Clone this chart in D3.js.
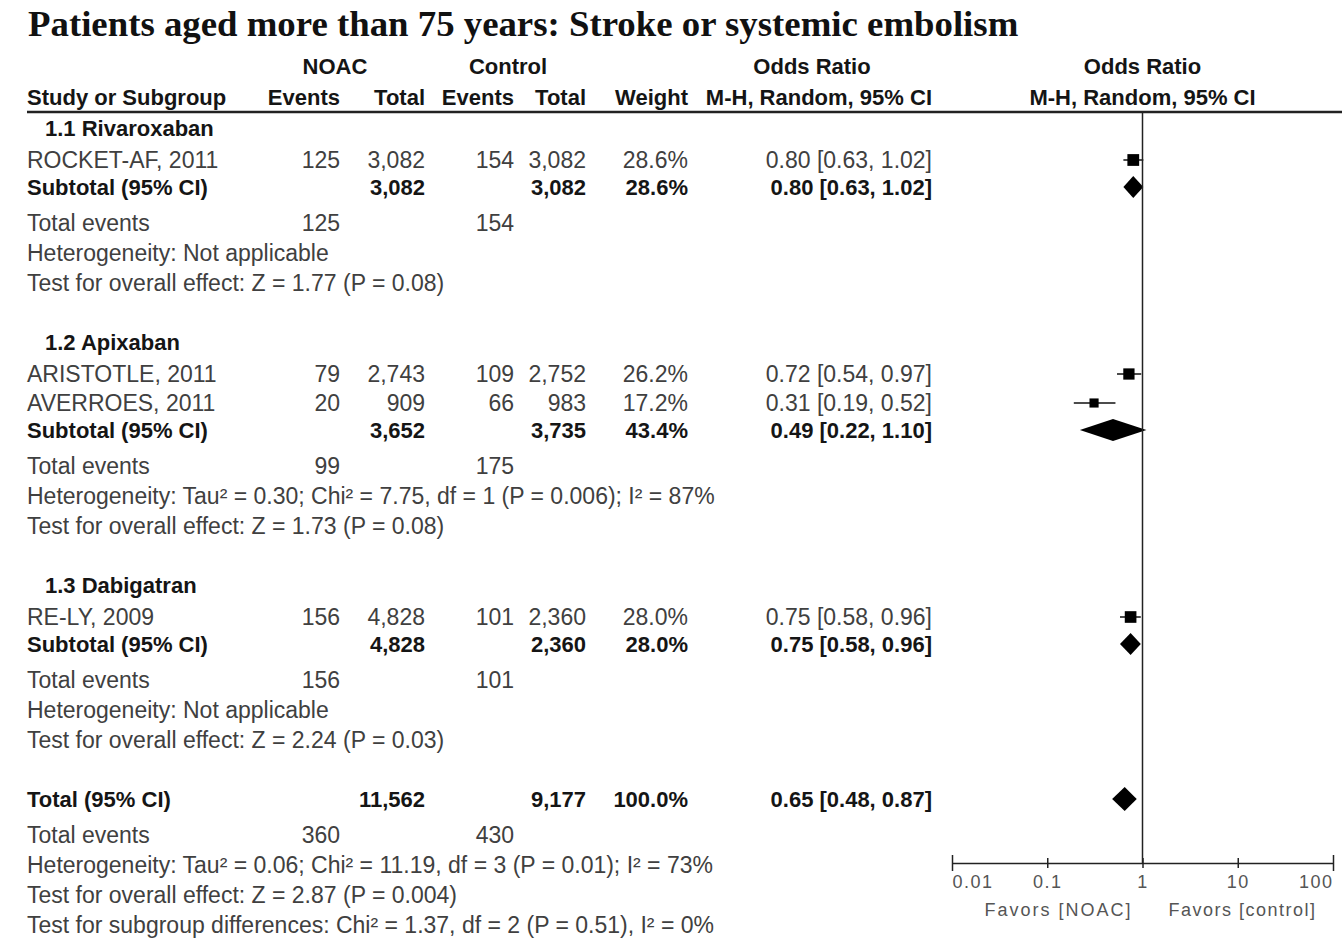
<!DOCTYPE html>
<html>
<head>
<meta charset="utf-8">
<script src="https://cdn.jsdelivr.net/npm/d3@7"></script>
<style>
  body { margin: 0; background: #fff; }
  text { font-family: "Liberation Sans", Arial, sans-serif; }
</style>
</head>
<body>
<script>
// chart text + data
const title = "Patients aged more than 75 years: Stroke or systemic embolism";

const groupNames = ["1.1 Rivaroxaban", "1.2 Apixaban", "1.3 Dabigatran"];

// individual studies
const studies    = ["ROCKET-AF, 2011", "ARISTOTLE, 2011", "AVERROES, 2011", "RE-LY, 2009"];
const studyGroup = [0, 1, 1, 2];
const noacEvents = [125, 79, 20, 156];
const noacTotal  = [3082, 2743, 909, 4828];
const ctrlEvents = [154, 109, 66, 101];
const ctrlTotal  = [3082, 2752, 983, 2360];
const weights    = [28.6, 26.2, 17.2, 28.0];
const orMid      = [0.80, 0.72, 0.31, 0.75];
const orLow      = [0.63, 0.54, 0.19, 0.58];
const orHigh     = [1.02, 0.97, 0.52, 0.96];

// subgroup summaries
const subNoacTotal  = [3082, 3652, 4828];
const subCtrlTotal  = [3082, 3735, 2360];
const subWeight     = [28.6, 43.4, 28.0];
const subMid        = [0.80, 0.49, 0.75];
const subLow        = [0.63, 0.22, 0.58];
const subHigh       = [1.02, 1.10, 0.96];
const subNoacEvents = [125, 99, 156];
const subCtrlEvents = [154, 175, 101];
const subHetero = [
  "Heterogeneity: Not applicable",
  "Heterogeneity: Tau\u00b2 = 0.30; Chi\u00b2 = 7.75, df = 1 (P = 0.006); I\u00b2 = 87%",
  "Heterogeneity: Not applicable"
];
const subEffect = [
  "Test for overall effect: Z = 1.77 (P = 0.08)",
  "Test for overall effect: Z = 1.73 (P = 0.08)",
  "Test for overall effect: Z = 2.24 (P = 0.03)"
];

// overall
const totNoacTotal = 11562, totCtrlTotal = 9177, totWeight = 100.0;
const totMid = 0.65, totLow = 0.48, totHigh = 0.87;
const totNoacEvents = 360, totCtrlEvents = 430;
const totHetero = "Heterogeneity: Tau\u00b2 = 0.06; Chi\u00b2 = 11.19, df = 3 (P = 0.01); I\u00b2 = 73%";
const totEffect = "Test for overall effect: Z = 2.87 (P = 0.004)";
const subgroupDiff = "Test for subgroup differences: Chi\u00b2 = 1.37, df = 2 (P = 0.51), I\u00b2 = 0%";

// axis
const tickValues = [0.01, 0.1, 1, 10, 100];
const tickLabels = ["0.01", "0.1", "1", "10", "100"];
const favorsLeft = "Favors [NOAC]", favorsRight = "Favors [control]";

const W = 1342, H = 940;
const svg = d3.select("body").append("svg").attr("width", W).attr("height", H);

const FS = 23, FSB = 22;
const grey = "#404040", dark = "#151515";

// columns (right edges)
const col = { name: 27, ne: 340, nt: 425, ce: 514, ct: 586, wt: 688, or: 932 };
const x = d3.scaleLog().domain([0.01, 100]).range([952, 1333]);

const fmtN = d3.format(",");
const fmt2 = d3.format(".2f");
const fmtW = d3.format(".1f");
const orText = (m, l, h) => `${fmt2(m)} [${fmt2(l)}, ${fmt2(h)}]`;

function txt(xp, yc, s, opt = {}) {
  return svg.append("text")
    .attr("x", xp).attr("y", yc + 8)
    .attr("text-anchor", opt.anchor || "start")
    .attr("font-size", opt.bold ? FSB : FS)
    .attr("font-weight", opt.bold ? "bold" : "normal")
    .attr("fill", opt.bold ? dark : grey)
    .text(s);
}

// title
svg.append("text").attr("x", 28).attr("y", 36)
  .style("font-family", "'Liberation Serif', 'Times New Roman', serif")
  .attr("font-size", 36.8).attr("font-weight", "bold").attr("fill", "#111")
  .text(title);

// header
txt(335, 66, "NOAC", { anchor: "middle", bold: true });
txt(508, 66, "Control", { anchor: "middle", bold: true });
txt(812, 66, "Odds Ratio", { anchor: "middle", bold: true });
txt(x(1), 66, "Odds Ratio", { anchor: "middle", bold: true });
const hy = 97;
txt(col.name, hy, "Study or Subgroup", { bold: true });
txt(col.ne, hy, "Events", { anchor: "end", bold: true });
txt(col.nt, hy, "Total", { anchor: "end", bold: true });
txt(col.ce, hy, "Events", { anchor: "end", bold: true });
txt(col.ct, hy, "Total", { anchor: "end", bold: true });
txt(col.wt, hy, "Weight", { anchor: "end", bold: true });
txt(col.or, hy, "M-H, Random, 95% CI", { anchor: "end", bold: true });
txt(x(1), hy, "M-H, Random, 95% CI", { anchor: "middle", bold: true });

const ruleY = 112;
svg.append("line").attr("x1", 27).attr("x2", W).attr("y1", ruleY).attr("y2", ruleY)
  .attr("stroke", "#222").attr("stroke-width", 2.5);

// vertical row layout
const step = { afterHeader: 32, study: 29, toSub: 27, toEvents: 36, line: 30, gap: 59 };
let y = 128;

const marks = svg.append("g");
const sqSide = w => Math.sqrt(w) * 2.2;

function diamond(m, l, h, yc, hh) {
  const pts = [[x(l), yc], [x(m), yc - hh], [x(h), yc], [x(m), yc + hh]];
  marks.append("path").attr("d", "M" + pts.join("L") + "Z").attr("fill", "#000");
}

groupNames.forEach((g, gi) => {
  txt(45, y, g, { bold: true });
  y += step.afterHeader;
  studies.forEach((s, i) => {
    if (studyGroup[i] !== gi) return;
    txt(col.name, y, s);
    txt(col.ne, y, noacEvents[i], { anchor: "end" });
    txt(col.nt, y, fmtN(noacTotal[i]), { anchor: "end" });
    txt(col.ce, y, ctrlEvents[i], { anchor: "end" });
    txt(col.ct, y, fmtN(ctrlTotal[i]), { anchor: "end" });
    txt(col.wt, y, fmtW(weights[i]) + "%", { anchor: "end" });
    txt(col.or, y, orText(orMid[i], orLow[i], orHigh[i]), { anchor: "end" });
    marks.append("line").attr("x1", x(orLow[i])).attr("x2", x(orHigh[i]))
      .attr("y1", y).attr("y2", y).attr("stroke", "#111").attr("stroke-width", 1.5);
    const sd = sqSide(weights[i]);
    marks.append("rect").attr("x", x(orMid[i]) - sd / 2).attr("y", y - sd / 2)
      .attr("width", sd).attr("height", sd).attr("fill", "#000");
    y += step.study;
  });
  y += step.toSub - step.study;
  txt(col.name, y, "Subtotal (95% CI)", { bold: true });
  txt(col.nt, y, fmtN(subNoacTotal[gi]), { anchor: "end", bold: true });
  txt(col.ct, y, fmtN(subCtrlTotal[gi]), { anchor: "end", bold: true });
  txt(col.wt, y, fmtW(subWeight[gi]) + "%", { anchor: "end", bold: true });
  txt(col.or, y, orText(subMid[gi], subLow[gi], subHigh[gi]), { anchor: "end", bold: true });
  diamond(subMid[gi], subLow[gi], subHigh[gi], y, 11);
  y += step.toEvents;
  txt(col.name, y, "Total events");
  txt(col.ne, y, subNoacEvents[gi], { anchor: "end" });
  txt(col.ce, y, subCtrlEvents[gi], { anchor: "end" });
  y += step.line;
  txt(col.name, y, subHetero[gi]);
  y += step.line;
  txt(col.name, y, subEffect[gi]);
  y += step.gap;
});

// overall
txt(col.name, y, "Total (95% CI)", { bold: true });
txt(col.nt, y, fmtN(totNoacTotal), { anchor: "end", bold: true });
txt(col.ct, y, fmtN(totCtrlTotal), { anchor: "end", bold: true });
txt(col.wt, y, fmtW(totWeight) + "%", { anchor: "end", bold: true });
txt(col.or, y, orText(totMid, totLow, totHigh), { anchor: "end", bold: true });
diamond(totMid, totLow, totHigh, y, 12);
y += step.toEvents;
txt(col.name, y, "Total events");
txt(col.ne, y, totNoacEvents, { anchor: "end" });
txt(col.ce, y, totCtrlEvents, { anchor: "end" });
y += step.line;
txt(col.name, y, totHetero);
y += step.line;
txt(col.name, y, totEffect);
y += step.line;
txt(col.name, y, subgroupDiff);

// axis
const axisY = 863;
svg.append("line").attr("x1", x(1)).attr("x2", x(1)).attr("y1", ruleY).attr("y2", axisY)
  .attr("stroke", "#222").attr("stroke-width", 1.5);

const axis = d3.axisBottom(x).tickValues(tickValues)
  .tickFormat((d, i) => tickLabels[i]).tickSize(5).tickSizeOuter(0);
const ag = svg.append("g").attr("transform", `translate(0,${axisY})`).call(axis);
ag.select(".domain").attr("stroke", "#222").attr("stroke-width", 1.5);
ag.selectAll(".tick line").attr("y1", (d, i) => (i === 0 || i === 4) ? -8 : -5)
  .attr("y2", (d, i) => (i === 0 || i === 4) ? 8 : 5)
  .attr("stroke", "#222").attr("stroke-width", 1.5);
ag.selectAll(".tick text")
  .attr("y", 12).attr("dy", "0.71em")
  .attr("font-size", 18).attr("fill", "#555")
  .style("letter-spacing", "1.5px")
  .style("font-family", "'Liberation Sans', Arial, sans-serif")
  .attr("text-anchor", (d, i) => i === 0 ? "start" : (i === 4 ? "end" : "middle"));

svg.append("text").attr("x", x(1) - 10).attr("y", axisY + 53)
  .attr("text-anchor", "end").attr("font-size", 18).attr("fill", "#555")
  .style("letter-spacing", "2px").text(favorsLeft);
svg.append("text").attr("x", x(1) + 26).attr("y", axisY + 53)
  .attr("text-anchor", "start").attr("font-size", 18).attr("fill", "#555")
  .style("letter-spacing", "1.5px").text(favorsRight);
</script>
</body>
</html>
